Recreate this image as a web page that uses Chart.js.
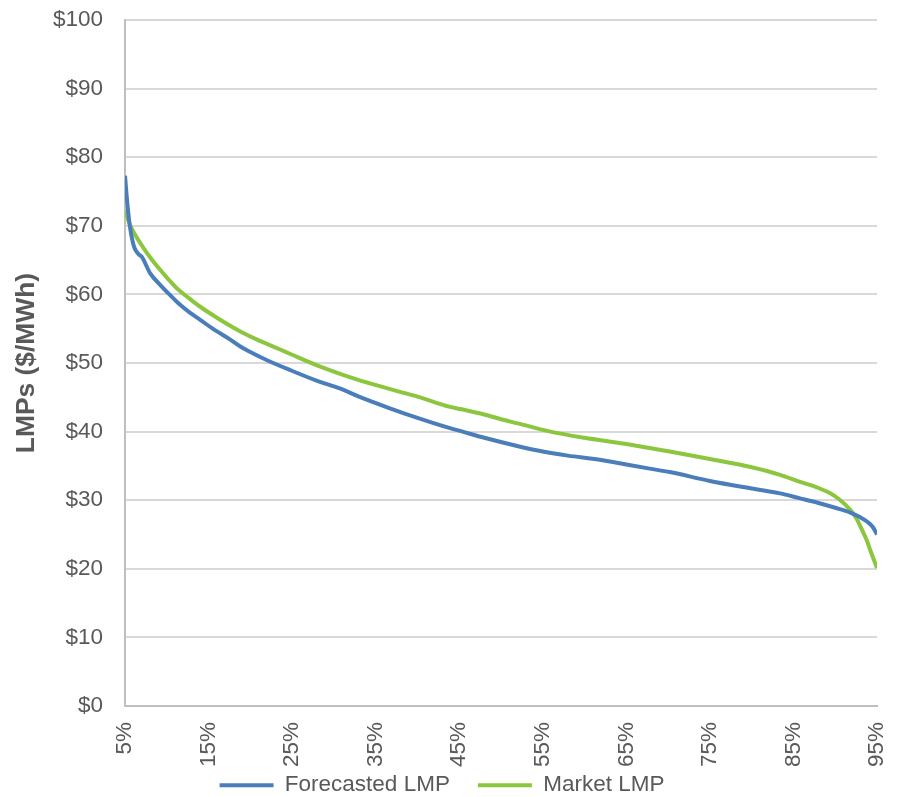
<!DOCTYPE html>
<html>
<head>
<meta charset="utf-8">
<script src="https://cdn.jsdelivr.net/npm/chart.js@4.4.1/dist/chart.umd.min.js"></script>
<style>
  html, body { margin: 0; padding: 0; background: #ffffff; }
  #wrap { width: 898px; height: 797px; position: relative; }
</style>
</head>
<body>
<div id="wrap"><canvas id="lmp"></canvas></div>
<script>
// Duration curves of hourly LMPs, by percentile of hours
const forecastPct = [5, 5.3, 5.6, 6.1, 6.6, 7, 8, 9.2, 10.4, 11.5, 12.8, 14, 15.5, 17.6, 18.8, 20, 22, 24.7, 28, 30.7, 33, 36.7, 40, 43.9, 45.1, 48, 52.3, 55, 58, 61.8, 65, 67.8, 70.2, 75, 80, 83.4, 85.7, 88, 90, 91.8, 93, 93.8, 94.5, 95];
const forecastLmp = [77.3, 73.0, 69.8, 66.9, 65.9, 65.5, 63.1, 61.4, 59.9, 58.6, 57.3, 56.3, 55.0, 53.4, 52.4, 51.6, 50.4, 49.0, 47.4, 46.3, 45.1, 43.4, 42.0, 40.5, 40.1, 39.1, 37.8, 37.1, 36.5, 35.9, 35.2, 34.6, 34.1, 32.8, 31.7, 31.0, 30.3, 29.6, 28.9, 28.2, 27.5, 26.9, 26.1, 25.0];

const marketPct = [5, 5.6, 6.4, 7.2, 8.2, 9.2, 10.2, 11.2, 12.6, 14, 16, 17.9, 18.8, 21, 23.5, 25, 28.3, 31, 33, 35, 37.9, 40, 43.9, 45.1, 48, 50, 52, 55.9, 60, 65, 67.8, 70.2, 75, 80, 83.4, 85.7, 87.5, 89.4, 90.5, 91.8, 92.5, 93.2, 93.8, 94.2, 94.6, 95];
const marketLmp = [72.2, 70.1, 68.3, 66.8, 65.1, 63.6, 62.2, 60.9, 59.5, 58.2, 56.6, 55.2, 54.6, 53.3, 52.0, 51.2, 49.5, 48.3, 47.5, 46.8, 45.8, 45.1, 43.6, 43.3, 42.5, 41.8, 41.2, 40.0, 39.1, 38.2, 37.6, 37.1, 36.0, 34.8, 33.7, 32.7, 32.0, 31.0, 30.1, 28.6, 27.4, 25.7, 24.1, 22.7, 21.4, 20.1];

const seriesNames = ['Forecasted LMP', 'Market LMP'];
const xTicks = [5, 15, 25, 35, 45, 55, 65, 75, 85, 95];
const yTicks = [0, 10, 20, 30, 40, 50, 60, 70, 80, 90, 100];

const toPoints = (xs, ys) => xs.map((x, i) => ({ x: x, y: ys[i] }));

const TEXT = '#595959';
Chart.defaults.font.family = "'Liberation Sans', Arial, sans-serif";
Chart.defaults.color = TEXT;

// Short legend band tucked right under the rotated percentile labels
const LEGEND_H = 27, LEGEND_LIFT = 24;
const compactLegend = {
  id: 'compactLegend',
  beforeLayout(chart) {
    const lg = chart.legend;
    if (!lg || lg._compact) return;
    const fit = lg.fit.bind(lg);
    lg.fit = function () { fit(); this.height = LEGEND_H; };
    lg._compact = true;
  },
  afterLayout(chart) {
    const lg = chart.legend;
    if (!lg) return;
    lg.top -= LEGEND_LIFT; // bottom stays at the canvas edge
  }
};

new Chart(document.getElementById('lmp'), {
  type: 'line',
  data: {
    datasets: [
      {
        label: seriesNames[0],
        data: toPoints(forecastPct, forecastLmp),
        borderColor: '#4A7EBB',
        backgroundColor: '#4A7EBB',
        borderWidth: 4,
        pointRadius: 0,
        cubicInterpolationMode: 'monotone'
      },
      {
        label: seriesNames[1],
        data: toPoints(marketPct, marketLmp),
        borderColor: '#8CC63E',
        backgroundColor: '#8CC63E',
        borderWidth: 4,
        pointRadius: 0,
        cubicInterpolationMode: 'monotone'
      }
    ]
  },
  plugins: [compactLegend],
  options: {
    responsive: true,
    maintainAspectRatio: false,
    animation: false,
    layout: { padding: { left: 7, right: 21, top: 20, bottom: 0 } },
    plugins: {
      tooltip: { enabled: false },
      legend: {
        position: 'bottom',
        align: 'center',
        labels: {
          color: TEXT,
          font: { size: 22.5 },
          boxWidth: 54,
          boxHeight: 4,
          padding: 28,
          generateLabels: (chart) =>
            Chart.defaults.plugins.legend.labels.generateLabels(chart)
              .map(l => Object.assign(l, { lineWidth: 0, fillStyle: l.strokeStyle }))
        }
      }
    },
    scales: {
      x: {
        type: 'linear',
        min: xTicks[0],
        max: xTicks[xTicks.length - 1],
        afterBuildTicks: (scale) => { scale.ticks = xTicks.map(v => ({ value: v })); },
        afterFit: (scale) => { scale.height = 64; scale.paddingLeft = 0; scale.paddingRight = 0; },
        grid: { display: false, drawTicks: false },
        border: { display: true, color: '#BFBFBF', width: 2 },
        ticks: {
          color: TEXT,
          font: { size: 22.5 },
          minRotation: 90,
          maxRotation: 90,
          padding: 16,
          autoSkip: false,
          callback: (v) => v + '%'
        }
      },
      y: {
        min: yTicks[0],
        max: yTicks[yTicks.length - 1],
        afterBuildTicks: (scale) => { scale.ticks = yTicks.map(v => ({ value: v })); },
        afterFit: (scale) => { scale.width = 118; scale.paddingTop = 0; scale.paddingBottom = 0; },
        grid: { color: '#D9D9D9', lineWidth: 2, drawTicks: false },
        border: { display: true, color: '#BFBFBF', width: 2 },
        ticks: {
          color: TEXT,
          font: { size: 22.5 },
          padding: 22,
          callback: (v) => '$' + v
        },
        title: {
          display: true,
          text: 'LMPs ($/MWh)',
          color: TEXT,
          font: { size: 26.4, weight: 'bold' },
          padding: { top: 4, bottom: 4 }
        }
      }
    }
  }
});
</script>
</body>
</html>
